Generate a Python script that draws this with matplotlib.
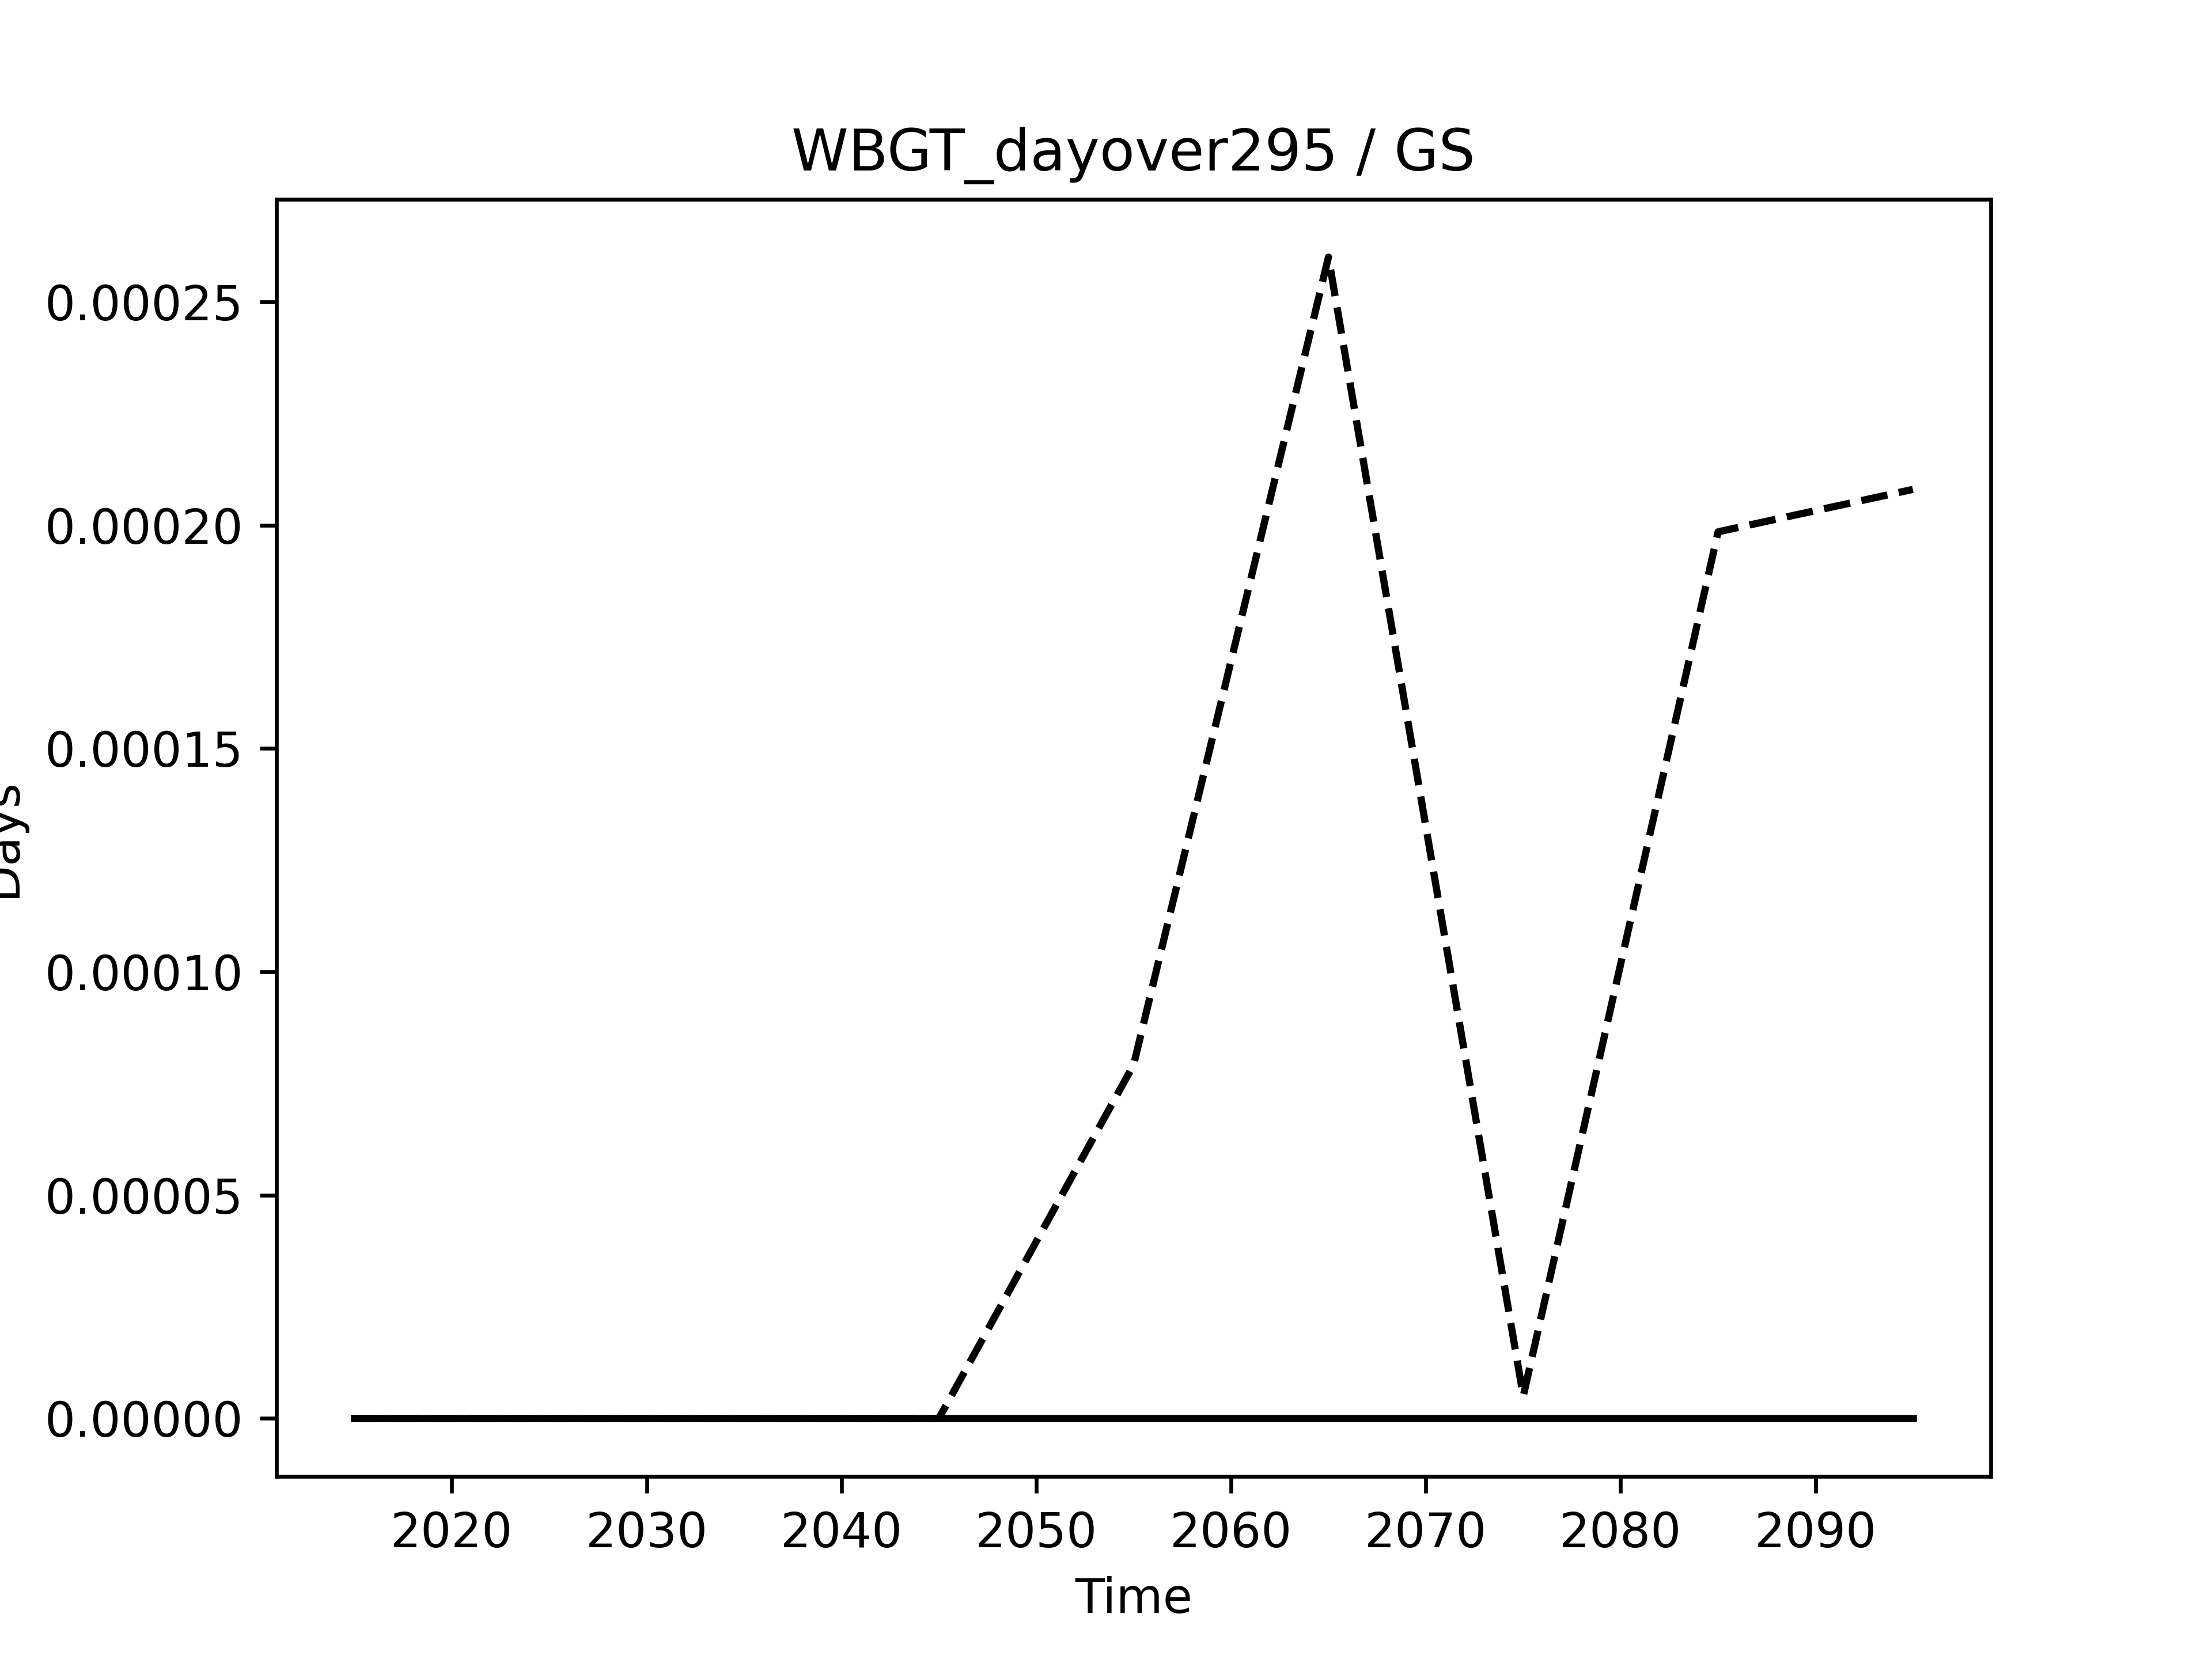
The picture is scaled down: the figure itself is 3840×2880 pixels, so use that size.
import numpy as np
import matplotlib
matplotlib.use('Agg')
import matplotlib.pyplot as plt

# decade midpoints
years = [2015, 2025, 2035, 2045, 2055, 2065, 2075, 2085, 2095]
# future scenario (dashed) and reference (solid)
days_scen = [0.0, 0.0, 0.0, 0.0, 7.92e-5, 2.60e-4, 5.0e-6, 1.985e-4, 2.08e-4]
days_ref = [0.0, 0.0, 0.0, 0.0, 0.0, 0.0, 0.0, 0.0, 0.0]

fig = plt.figure(figsize=(6.4, 4.8))
plt.plot(years, days_ref, color='k', linewidth=1.5)
plt.plot(years, days_scen, color='k', linestyle='--', linewidth=1.5)
plt.title('WBGT_dayover295 / GS')
plt.xlabel('Time')
plt.ylabel('Days')
plt.savefig('out.png', dpi=600)
